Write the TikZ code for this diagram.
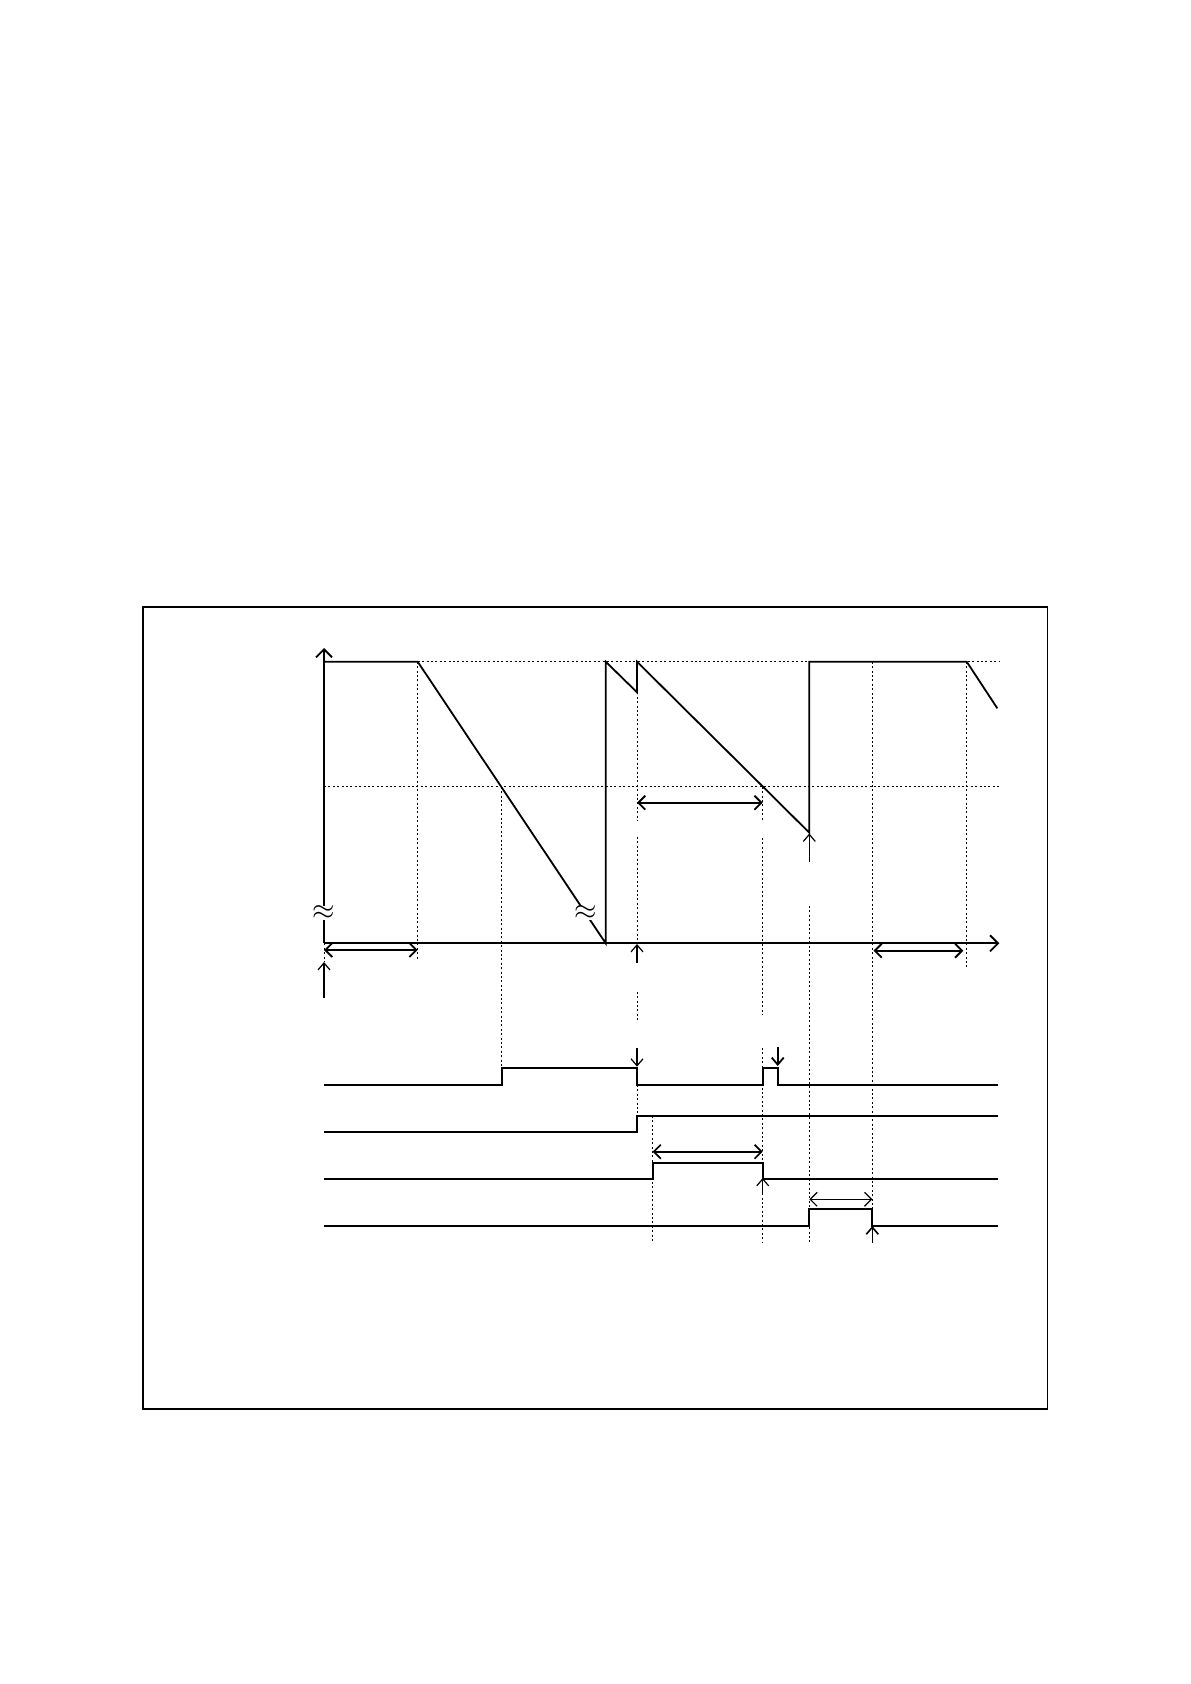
\documentclass[tikz,border=0pt]{standalone}
\usetikzlibrary{arrows.meta}
\tikzset{
  sigline/.style={line width=0.9pt},
  guideline/.style={line width=0.4pt, dash pattern=on 1pt off 1.2pt},
  spanarrow/.style={line width=0.9pt, {Straight Barb[length=3.5pt,width=7pt]}-{Straight Barb[length=3.5pt,width=7pt]}},
  tickarrow/.style={line width=0.6pt, -{Straight Barb[length=3.5pt,width=6pt]}},
  axisarrow/.style={line width=0.9pt, -{Straight Barb[length=4pt,width=8pt]}},
  brk/.style={fill=white, inner sep=0pt, font=\Large},
}
\begin{document}
\begin{tikzpicture}[x=0.5pt, y=-0.5pt]
    \useasboundingbox (0,0) rectangle (1190,1684);
    \draw[line width=0.9pt] (143,607) rectangle (1047.5,1409);
    \draw[guideline] (417.7,661.7) -- (1000,661.7);
    \draw[guideline] (324,786.7) -- (1000,786.7);
    \draw[guideline] (417.7,661.7) -- (417.7,960);
    \draw[guideline] (501.7,786.7) -- (501.7,1068.3);
    \draw[guideline] (637,692.3) -- (637,820);
    \draw[guideline] (637,836.7) -- (637,943.3);
    \draw[guideline] (637,991.7) -- (637,1020);
    \draw[guideline] (637,1085) -- (637,1115.7);
    \draw[guideline] (652.7,1115.7) -- (652.7,1241.7);
    \draw[guideline] (762.7,786.7) -- (762.7,820);
    \draw[guideline] (762.7,838) -- (762.7,1015);
    \draw[guideline] (762.7,1048) -- (762.7,1241.7);
    \draw[guideline] (809.3,906) -- (809.3,1241.7);
    \draw[guideline] (872.7,661.7) -- (872.7,1241.7);
    \draw[guideline] (966.7,661.7) -- (966.7,968);
    \draw[guideline] (324,943.3) -- (324,962);
    \draw[axisarrow] (324,943.3) -- (324,648);
    \draw[axisarrow] (324,943.3) -- (999.3,943.3);
    \draw[sigline] (324,661.7) -- (417.7,661.7) -- (605.7,943.3) -- (605.7,661.7)
        -- (637,692.3) -- (637,661.7) -- (809.3,832.7) -- (809.3,661.7)
        -- (966.7,661.7) -- (997.3,708.3);
    \node[brk] (brkaxis) at (324,913) {$\approx$};
    \node[brk] (brkramp) at (585.5,913) {$\approx$};
    \draw[spanarrow] (324,950) -- (417.7,950);
    \draw[spanarrow] (637,802.7) -- (762.7,802.7);
    \draw[spanarrow] (873.5,950.7) -- (963.3,950.7);
    \draw[spanarrow, line width=0.8pt] (652.7,1151.7) -- (762.7,1151.7);
    \draw[spanarrow, line width=0.6pt] (809.3,1199.3) -- (872.3,1199.3);
    \draw[tickarrow] (324,998) -- (324,962);
    \draw[tickarrow] (637,963.3) -- (637,944);
    \draw[tickarrow] (809.3,861.7) -- (809.3,833.5);
    \draw[tickarrow] (637,1048) -- (637,1066.7);
    \draw[tickarrow, line width=0.9pt] (777.7,1046.7) -- (777.7,1066);
    \draw[tickarrow] (762.7,1195) -- (762.7,1178);
    \draw[tickarrow, line width=0.8pt] (872.3,1243.3) -- (872.3,1226);
    \draw[sigline] (324,1085) -- (501.7,1085) -- (501.7,1068.3) -- (637,1068.3) -- (637,1085)
        -- (762.7,1085) -- (762.7,1068.3) -- (777.7,1068.3) -- (777.7,1085) -- (998.3,1085);
    \draw[sigline] (324,1131.7) -- (637,1131.7) -- (637,1115.7) -- (998.3,1115.7);
    \draw[sigline] (324,1179) -- (652.7,1179) -- (652.7,1162.7) -- (762.7,1162.7) -- (762.7,1179) -- (998.3,1179);
    \draw[sigline] (324,1225.7) -- (809.3,1225.7) -- (809.3,1209.3) -- (872.3,1209.3) -- (872.3,1225.7) -- (998.3,1225.7);
\end{tikzpicture}
\end{document}
